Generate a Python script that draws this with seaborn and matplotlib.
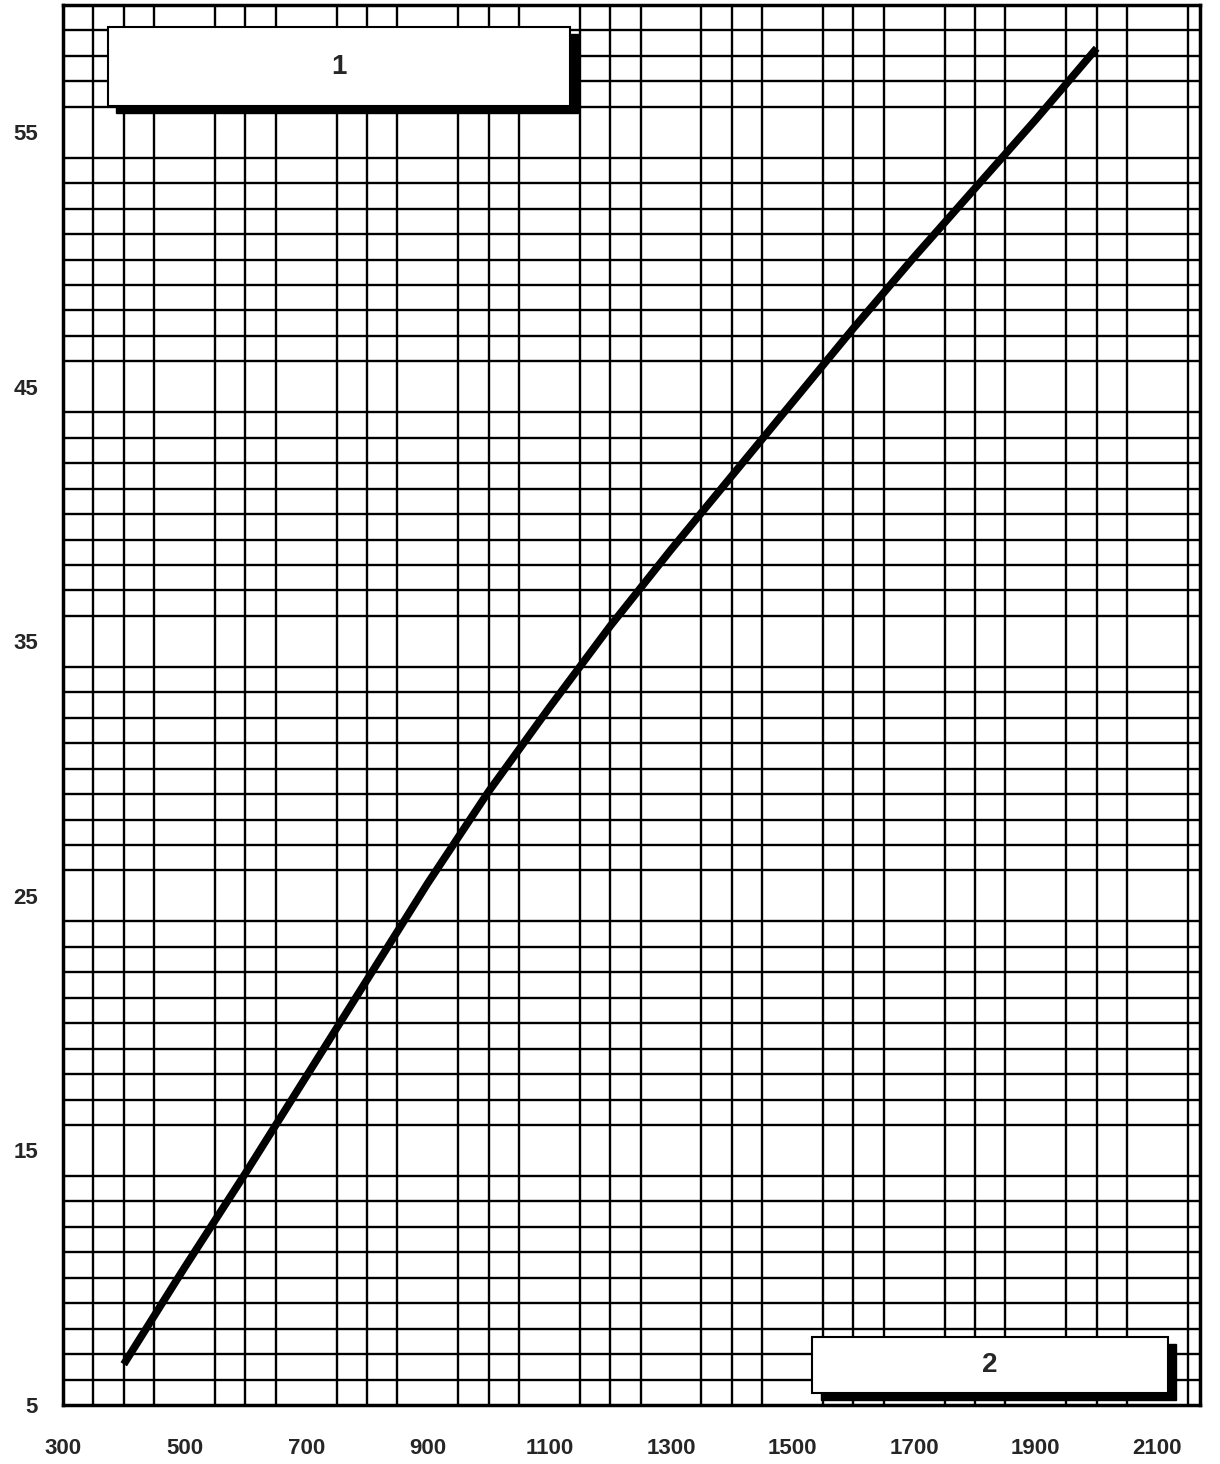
import matplotlib
matplotlib.use("Agg")
import matplotlib.pyplot as plt
import matplotlib.transforms as mtransforms
from matplotlib.patches import Rectangle
import numpy as np
import pandas as pd
import seaborn as sns

# values
x_vals = [400, 500, 600, 700, 800, 900, 1000, 1100, 1200, 1300,
          1400, 1500, 1600, 1700, 1800, 1900, 2000]
y_vals = [6.6, 10.4, 14.1, 17.9, 21.7, 25.5, 29.1, 32.4, 35.6, 38.6,
          41.5, 44.4, 47.3, 50.1, 52.8, 55.5, 58.3]
x_ticks = [300, 500, 700, 900, 1100, 1300, 1500, 1700, 1900, 2100]
y_ticks = [5, 15, 25, 35, 45, 55]
box_labels = ["1", "2"]

df = pd.DataFrame({"x": x_vals, "y": y_vals})

sns.set_style("white")
plt.rcParams["font.family"] = ["Liberation Sans", "DejaVu Sans"]

fig = plt.figure(figsize=(12.2, 14.64), dpi=100)
ax = fig.add_axes([0.0516, 0.0403, 0.932, 0.9563])

# graph paper grid
ax.set_xlim(300, 2170)
ax.set_ylim(5, 60)
ax.set_xticks(np.arange(300, 2151, 50), minor=True)
ax.set_yticks(np.arange(5, 61, 1), minor=True)
ax.grid(which="minor", color="black", linewidth=1.7)
ax.set_axisbelow(True)

sns.lineplot(data=df, x="x", y="y", ax=ax, color="black", linewidth=5.5,
             solid_capstyle="butt", zorder=3)

ax.set_xticks(x_ticks)
ax.set_yticks(y_ticks)
ax.set_xticklabels([str(t) for t in x_ticks], fontsize=16, fontweight="bold")
ax.set_yticklabels([str(t) for t in y_ticks], fontsize=16, fontweight="bold")
ax.tick_params(axis="x", which="major", direction="out", length=6, width=2,
               pad=18, color="black")
ax.tick_params(axis="y", which="major", length=0, pad=18)
ax.tick_params(which="minor", length=0)
ax.set_xlabel("")
ax.set_ylabel("")
for side in ["left", "bottom", "top", "right"]:
    ax.spines[side].set_visible(True)
    ax.spines[side].set_color("black")
    ax.spines[side].set_linewidth(2.5)

# label boxes with drop shadow
boxes = [(0.0396, 0.928, 0.406, 0.056), (0.659, 0.0086, 0.313, 0.040)]
shadow = mtransforms.offset_copy(ax.transAxes, fig=fig, x=6, y=-5, units="points")
for (bx, by, bw, bh), lab in zip(boxes, box_labels):
    ax.add_patch(Rectangle((bx, by), bw, bh, transform=shadow,
                           facecolor="black", edgecolor="black", zorder=4,
                           clip_on=False))
    ax.add_patch(Rectangle((bx, by), bw, bh, transform=ax.transAxes,
                           facecolor="white", edgecolor="black", linewidth=1.5,
                           zorder=5, clip_on=False))
    ax.text(bx + bw / 2, by + bh / 2, lab, transform=ax.transAxes,
            ha="center", va="center", fontsize=20, fontweight="bold", zorder=6)

fig.savefig("out.png", dpi=100)
